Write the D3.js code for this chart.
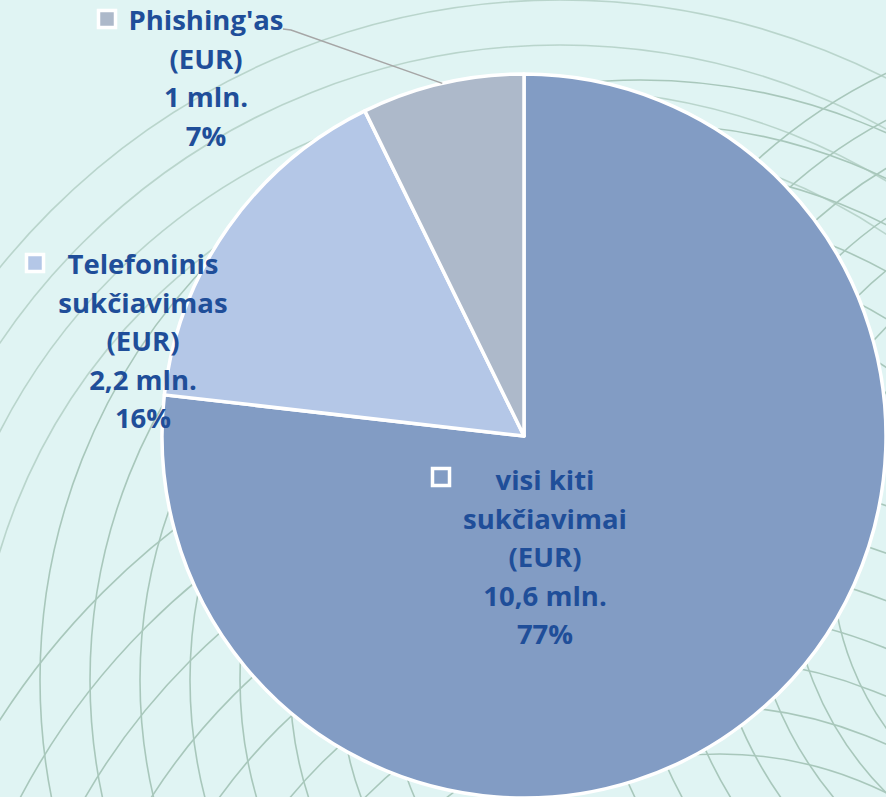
<!DOCTYPE html>
<html>
<head>
<meta charset="utf-8">
<script src="https://d3js.org/d3.v7.min.js"></script>
<style>
  html, body { margin: 0; padding: 0; background: #e0f4f3; }
  svg { display: block; }
  .lbl { font-family: "Open Sans", "Noto Sans", sans-serif; font-weight: 700; fill: #1f4e99; }
</style>
</head>
<body>
<svg width="886" height="797"></svg>
<script>
// chart data
var categories = ["visi kiti\nsukčiavimai\n(EUR)", "Telefoninis\nsukčiavimas\n(EUR)", "Phishing'as\n(EUR)"];
var values = [10.6, 2.2, 1];      // mln. EUR
var valueLabels = ["10,6 mln.", "2,2 mln.", "1 mln."];
var colors = ["#829cc4", "#b4c7e7", "#adb9ca"];

var svg = d3.select("svg"),
    width = +svg.attr("width"),
    height = +svg.attr("height");

// background
svg.append("rect").attr("width", width).attr("height", height).attr("fill", "#e0f4f3");

// decorative arcs in the background
var deco = svg.append("g")
    .attr("fill", "none")
    .attr("stroke", "#9fc0b2")
    .attr("stroke-width", 1.6)
    .attr("opacity", 0.85);

// near-vertical arcs on the left side
for (var i = 0; i < 8; i++) {
  deco.append("circle").attr("cx", 640 + i * 6).attr("cy", 680).attr("r", 600 - i * 44);
}
// diagonal arcs going up to the right
for (var j = 0; j < 9; j++) {
  deco.append("circle").attr("cx", 640 + j * 10).attr("cy", 1130).attr("r", 760 - j * 48);
}
// arcs in the upper right
for (var k = 0; k < 7; k++) {
  deco.append("circle").attr("cx", 1120).attr("cy", 560).attr("r", 540 - k * 42);
}
for (var m = 0; m < 4; m++) {
  deco.append("circle").attr("cx", 560).attr("cy", 720).attr("r", 720 - m * 45).attr("opacity", 0.7);
}

// pie
var cx = 524, cy = 436, radius = 362;
var total = d3.sum(values);

var pie = d3.pie().sort(null).value(function(d) { return d; });
var arc = d3.arc().innerRadius(0).outerRadius(radius);
var arcs = pie(values);

var g = svg.append("g").attr("transform", "translate(" + cx + "," + cy + ")");

g.selectAll("path")
  .data(arcs)
  .enter().append("path")
  .attr("d", arc)
  .attr("fill", function(d, i) { return colors[i]; })
  .attr("stroke", "#ffffff")
  .attr("stroke-width", 3.5)
  .attr("stroke-linejoin", "round");

// leader line for the small slice
var edge = d3.arc().innerRadius(radius).outerRadius(radius).centroid(arcs[2]);
svg.append("polyline")
  .attr("points", [[283, 29], [291, 30], [cx + edge[0], cy + edge[1]]].map(function(p) { return p.join(","); }).join(" "))
  .attr("fill", "none")
  .attr("stroke", "#a6a6a6")
  .attr("stroke-width", 1.5);

// label placement (centre x, first baseline, marker position)
var labelPos = [
  { x: 545, y: 490, mx: 431, my: 467 },
  { x: 143, y: 274, mx: 25, my: 253 },
  { x: 206, y: 30, mx: 97, my: 9 }
];
var lineH = 38.6;

labelPos.forEach(function(p, i) {
  var lines = categories[i].split("\n");
  lines.push(valueLabels[i]);
  lines.push(Math.round(values[i] / total * 100) + "%");

  svg.append("rect")
    .attr("x", p.mx + 1.5).attr("y", p.my + 1.5)
    .attr("width", 17).attr("height", 17)
    .attr("fill", colors[i])
    .attr("stroke", "#ffffff")
    .attr("stroke-width", 3.5);

  var t = svg.append("text")
    .attr("class", "lbl")
    .attr("text-anchor", "middle")
    .attr("font-size", 27.5);
  t.selectAll("tspan")
    .data(lines)
    .enter().append("tspan")
    .attr("x", p.x)
    .attr("y", function(d, k) { return p.y + k * lineH; })
    .text(function(d) { return d; });
});
</script>
</body>
</html>
